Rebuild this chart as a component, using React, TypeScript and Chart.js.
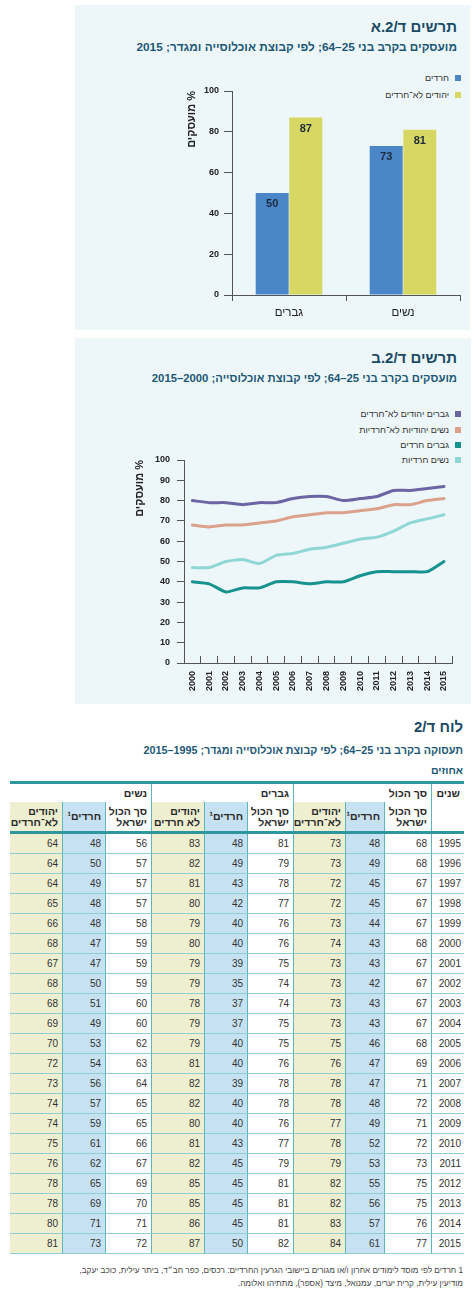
import React, { useEffect, useRef } from 'react';
import { Chart, registerables } from 'chart.js';

Chart.register(...registerables);

const FONT = "'Liberation Sans', Arial, sans-serif";
Chart.defaults.font.family = FONT;
if (typeof document !== 'undefined') {
  document.body.style.margin = '0';
}

// ---------- Chart A: 2015 bars ----------
const BAR_CATEGORIES = ['גברים', 'נשים'];
const BAR_SERIES_LABELS = ['חרדים', 'יהודים לא־חרדים'];
const BAR_HAREDI = [50, 73];
const BAR_NON_HAREDI = [87, 81];

// ---------- Chart B: 2000-2015 lines ----------
const LINE_YEARS = ['2000', '2001', '2002', '2003', '2004', '2005', '2006', '2007', '2008', '2009', '2010', '2011', '2012', '2013', '2014', '2015'];
const LINE_SERIES_LABELS = ['גברים יהודים לא־חרדים', 'נשים יהודיות לא־חרדיות', 'גברים חרדים', 'נשים חרדיות'];
const LINE_MEN_NON_HAREDI = [80, 79, 79, 78, 79, 79, 81, 82, 82, 80, 81, 82, 85, 85, 86, 87];
const LINE_WOMEN_NON_HAREDI = [68, 67, 68, 68, 69, 70, 72, 73, 74, 74, 75, 76, 78, 78, 80, 81];
const LINE_MEN_HAREDI = [40, 39, 35, 37, 37, 40, 40, 39, 40, 40, 43, 45, 45, 45, 45, 50];
const LINE_WOMEN_HAREDI = [47, 47, 50, 51, 49, 53, 54, 56, 57, 59, 61, 62, 65, 69, 71, 73];

// ---------- Table ----------
const TABLE_YEARS = [1995, 1996, 1997, 1998, 1999, 2000, 2001, 2002, 2003, 2004, 2005, 2006, 2007, 2008, 2009, 2010, 2011, 2012, 2013, 2014, 2015];
const TOTAL_ISRAEL = [68, 68, 67, 67, 67, 68, 67, 67, 67, 67, 68, 69, 71, 72, 71, 72, 73, 75, 75, 76, 77];
const TOTAL_HAREDI = [48, 49, 45, 45, 44, 43, 43, 42, 43, 43, 46, 47, 47, 48, 49, 52, 53, 55, 56, 57, 61];
const TOTAL_NON_HAREDI = [73, 73, 72, 72, 73, 74, 73, 73, 73, 73, 75, 76, 78, 78, 77, 78, 79, 82, 82, 83, 84];
const MEN_ISRAEL = [81, 79, 78, 77, 76, 76, 75, 74, 74, 75, 75, 76, 78, 78, 76, 77, 79, 81, 81, 81, 82];
const MEN_HAREDI = [48, 49, 43, 42, 40, 40, 39, 35, 37, 37, 40, 40, 39, 40, 40, 43, 45, 45, 45, 45, 50];
const MEN_NON_HAREDI = [83, 82, 81, 80, 79, 80, 79, 79, 78, 79, 79, 81, 82, 82, 80, 81, 82, 85, 85, 86, 87];
const WOMEN_ISRAEL = [56, 57, 57, 57, 58, 59, 59, 59, 60, 60, 62, 63, 64, 65, 65, 66, 67, 69, 70, 71, 72];
const WOMEN_HAREDI = [48, 50, 49, 48, 48, 47, 47, 50, 51, 49, 53, 54, 56, 57, 59, 61, 62, 65, 69, 71, 73];
const WOMEN_NON_HAREDI = [64, 64, 64, 65, 66, 68, 67, 68, 68, 69, 70, 72, 73, 74, 74, 75, 76, 78, 78, 80, 81];

const GROUP_HEADERS = ['שנים', 'סך הכול', 'גברים', 'נשים'];
const SUB_HEADERS = [
  [''],
  ['סך הכול', 'ישראל'], ['חרדים¹'], ['יהודים', 'לא־חרדים'],
  ['סך הכול', 'ישראל'], ['חרדים¹'], ['יהודים', 'לא חרדים'],
  ['סך הכול', 'ישראל'], ['חרדים¹'], ['יהודים', 'לא־חרדים'],
];

// ---------- Styles ----------
const PANEL_BG = '#edf7fa';
const TITLE_COLOR = '#1b4a66';
const SUB_COLOR = '#1d5876';
const AXIS = '#555';
const TEXT = '#222';
const BLUE = '#4a86c8';
const YELLOW = '#d7d763';
const LINE_COLORS = ['#6b66a3', '#dba18b', '#17938f', '#8fd7d5'];
const TEAL_THICK = '#2e979e';
const TEAL_V = '#5db6bb';
const TEAL_H = '#8fcfd2';
const CELL_BLUE = '#c6e1f2';
const CELL_YELLOW = '#eeefd0';

const barValueLabels = {
  id: 'barValueLabels',
  afterDatasetsDraw(chart: any) {
    const ctx = chart.ctx;
    ctx.save();
    ctx.font = `bold 11px ${FONT}`;
    ctx.fillStyle = '#1c2a3a';
    ctx.textAlign = 'center';
    ctx.textBaseline = 'middle';
    chart.data.datasets.forEach((ds: any, i: number) => {
      chart.getDatasetMeta(i).data.forEach((el: any, j: number) => {
        ctx.fillText(String(ds.data[j]), el.x, el.y + 11);
      });
    });
    ctx.restore();
  },
};

function BarChart() {
  const ref = useRef<HTMLCanvasElement>(null);
  useEffect(() => {
    const chart = new Chart(ref.current as HTMLCanvasElement, {
      type: 'bar',
      data: {
        labels: BAR_CATEGORIES,
        datasets: [
          { label: BAR_SERIES_LABELS[0], data: BAR_HAREDI, backgroundColor: BLUE, categoryPercentage: 0.59, barPercentage: 0.98 },
          { label: BAR_SERIES_LABELS[1], data: BAR_NON_HAREDI, backgroundColor: YELLOW, categoryPercentage: 0.59, barPercentage: 0.98 },
        ],
      },
      options: {
        animation: false,
        responsive: false,
        layout: { padding: { top: 31, right: 10, left: 0, bottom: 0 } },
        plugins: { legend: { display: false }, tooltip: { enabled: false } },
        scales: {
          x: {
            grid: { drawOnChartArea: false, offset: true, tickLength: 6, color: AXIS },
            border: { color: AXIS },
            ticks: { color: TEXT, font: { size: 11.5 }, padding: 5 },
            afterFit: (s: any) => { s.height = 35; },
          },
          y: {
            min: 0,
            max: 100,
            ticks: { stepSize: 20, color: TEXT, font: { size: 9, weight: 'bold' }, padding: 5 },
            grid: { drawOnChartArea: false, tickLength: 8, color: AXIS },
            border: { color: AXIS },
            title: { display: true, text: '% מועסקים', align: 'end', color: TEXT, font: { size: 11, weight: 'bold' }, padding: { top: 35, bottom: 0 } },
            afterFit: (s: any) => { s.width = 82; },
          },
        },
      } as any,
      plugins: [barValueLabels],
    });
    return () => chart.destroy();
  }, []);
  return <canvas ref={ref} width={320} height={270} style={{ position: 'absolute', left: 150, top: 60, direction: 'rtl' }} />;
}

function LineChart() {
  const ref = useRef<HTMLCanvasElement>(null);
  useEffect(() => {
    const series = [LINE_MEN_NON_HAREDI, LINE_WOMEN_NON_HAREDI, LINE_MEN_HAREDI, LINE_WOMEN_HAREDI];
    const chart = new Chart(ref.current as HTMLCanvasElement, {
      type: 'line',
      data: {
        labels: LINE_YEARS,
        datasets: series.map((d, i) => ({
          label: LINE_SERIES_LABELS[i],
          data: d,
          borderColor: LINE_COLORS[i],
          borderWidth: 3,
          pointRadius: 0,
          tension: 0.2,
          fill: false,
          borderJoinStyle: 'round',
          borderCapStyle: 'round',
        })),
      },
      options: {
        animation: false,
        responsive: false,
        layout: { padding: { top: 20, right: 8, left: 0, bottom: 0 } },
        plugins: { legend: { display: false }, tooltip: { enabled: false } },
        scales: {
          x: {
            offset: true,
            grid: { drawOnChartArea: false, offset: true, tickLength: -7, color: AXIS },
            border: { color: AXIS },
            ticks: { color: TEXT, font: { size: 9, weight: 'bold' }, minRotation: 90, maxRotation: 90, autoSkip: false, padding: 15 },
            afterFit: (s: any) => { s.height = 37; },
          },
          y: {
            min: 0,
            max: 100,
            ticks: { stepSize: 10, color: TEXT, font: { size: 9, weight: 'bold' }, padding: 7 },
            grid: { drawOnChartArea: false, tickLength: 7, color: AXIS },
            border: { color: AXIS },
            title: { display: true, text: '% מועסקים', align: 'end', color: TEXT, font: { size: 11, weight: 'bold' }, padding: { top: 13, bottom: 0 } },
            afterFit: (s: any) => { s.width = 64; },
          },
        },
      } as any,
    });
    return () => chart.destroy();
  }, []);
  return <canvas ref={ref} width={350} height={260} style={{ position: 'absolute', left: 120, top: 440, direction: 'rtl' }} />;
}

function Txt(p: { top: number; right: number; size: number; color: string; text: string; bold?: boolean; lh?: number }) {
  const lh = p.lh ?? Math.round(p.size * 1.3);
  return (
    <div
      style={{
        position: 'absolute',
        top: p.top - lh / 2,
        right: p.right,
        fontSize: p.size,
        lineHeight: `${lh}px`,
        fontWeight: p.bold ? 'bold' : 'normal',
        color: p.color,
        direction: 'rtl',
        whiteSpace: 'nowrap',
      }}
    >
      {p.text}
    </div>
  );
}

function Legend(p: { labels: string[]; colors: string[]; tops: number[] }) {
  return (
    <>
      {p.labels.map((l, i) => (
        <div key={i} style={{ position: 'absolute', right: 474 - 461, top: p.tops[i] - 7, height: 14, display: 'flex', alignItems: 'center', direction: 'rtl', whiteSpace: 'nowrap' }}>
          <span style={{ display: 'inline-block', width: 6, height: 6, background: p.colors[i], marginLeft: 6 }} />
          <span style={{ fontSize: 9, color: '#333', lineHeight: '14px' }}>{l}</span>
        </div>
      ))}
    </>
  );
}

const COL_WIDTHS = [32, 47, 39, 52, 46, 43, 53, 46, 43, 53];
const COL_KIND = ['year', 'isr', 'har', 'non', 'isr', 'har', 'non', 'isr', 'har', 'non'];
const TABLE_RIGHT = 464;
const colRight = (i: number) => TABLE_RIGHT - COL_WIDTHS.slice(0, i).reduce((a, b) => a + b, 0);
const bgFor = (k: string) => (k === 'har' ? CELL_BLUE : k === 'non' ? CELL_YELLOW : '#fff');

function Table() {
  const cols = [TABLE_YEARS, TOTAL_ISRAEL, TOTAL_HAREDI, TOTAL_NON_HAREDI, MEN_ISRAEL, MEN_HAREDI, MEN_NON_HAREDI, WOMEN_ISRAEL, WOMEN_HAREDI, WOMEN_NON_HAREDI];
  const cells: React.ReactNode[] = [];
  const H1_TOP = 784, H1_H = 18, H2_TOP = 802, H2_H = 29, D_TOP = 834, ROW_H = 20;
  cells.push(<div key="tl" style={{ position: 'absolute', left: 10, top: 781, width: 454, height: 3, background: TEAL_THICK }} />);
  const groups = [[0, 1], [1, 4], [4, 7], [7, 10]];
  groups.forEach(([a, b], gi) => {
    const right = colRight(a);
    const left = colRight(b);
    cells.push(
      <div key={'g' + gi} style={{ position: 'absolute', left, top: H1_TOP, width: right - left, height: H1_H, boxSizing: 'border-box', borderRight: gi > 0 ? `1px solid ${TEAL_V}` : 'none', direction: 'rtl', textAlign: 'right', paddingRight: 4, fontSize: 10.5, fontWeight: 'bold', lineHeight: `${H1_H}px`, color: '#2a2a2a' }}>
        {GROUP_HEADERS[gi]}
      </div>
    );
  });
  COL_WIDTHS.forEach((w, i) => {
    const right = colRight(i);
    cells.push(
      <div key={'s' + i} style={{ position: 'absolute', left: right - w, top: H2_TOP, width: w, height: H2_H, boxSizing: 'border-box', background: bgFor(COL_KIND[i]), borderRight: i > 0 ? `1px solid ${TEAL_V}` : 'none', direction: 'rtl', textAlign: 'right', paddingRight: 4, display: 'flex', flexDirection: 'column', justifyContent: 'center', fontSize: 10.5, fontWeight: 'bold', lineHeight: '11px', color: '#2a2a2a', whiteSpace: 'nowrap' }}>
        {SUB_HEADERS[i].map((t, k) => <div key={k}>{t}</div>)}
      </div>
    );
  });
  cells.push(<div key="hl" style={{ position: 'absolute', left: 10, top: 831, width: 454, height: 3, background: TEAL_THICK }} />);
  TABLE_YEARS.forEach((_, r) => {
    COL_WIDTHS.forEach((w, i) => {
      const right = colRight(i);
      cells.push(
        <div key={`d${r}_${i}`} style={{ position: 'absolute', left: right - w, top: D_TOP + r * ROW_H, width: w, height: ROW_H, boxSizing: 'border-box', background: bgFor(COL_KIND[i]), borderRight: i > 0 ? `1px solid ${TEAL_V}` : 'none', borderBottom: `1px solid ${TEAL_H}`, textAlign: 'right', paddingRight: i === 0 ? 3 : 4, fontSize: 10, lineHeight: `${ROW_H - 1}px`, color: '#333' }}>
          {cols[i][r]}
        </div>
      );
    });
  });
  return <>{cells}</>;
}

export default function App() {
  return (
    <div style={{ position: 'relative', width: 474, height: 1296, background: '#fff', fontFamily: FONT, overflow: 'hidden' }}>
      {/* Panel A */}
      <div style={{ position: 'absolute', left: 75, top: 5, width: 395, height: 325, background: PANEL_BG }} />
      <Txt top={27} right={17} size={15} bold color={TITLE_COLOR} text="תרשים ד/2.א" />
      <Txt top={47} right={17} size={11.8} bold color={SUB_COLOR} text="מועסקים בקרב בני 25–64; לפי קבוצת אוכלוסייה ומגדר; 2015" />
      <Legend labels={BAR_SERIES_LABELS} colors={[BLUE, YELLOW]} tops={[78, 95]} />
      <BarChart />

      {/* Panel B */}
      <div style={{ position: 'absolute', left: 75, top: 338, width: 396, height: 366, background: PANEL_BG }} />
      <Txt top={358} right={17} size={15} bold color={TITLE_COLOR} text="תרשים ד/2.ב" />
      <Txt top={378} right={17} size={11.3} bold color={SUB_COLOR} text="מועסקים בקרב בני 25–64; לפי קבוצת אוכלוסייה; 2000–2015" />
      <Legend labels={LINE_SERIES_LABELS} colors={LINE_COLORS} tops={[414, 429.5, 444.5, 460]} />
      <LineChart />

      {/* Table */}
      <Txt top={727} right={11} size={15} bold color={TITLE_COLOR} text="לוח ד/2" />
      <Txt top={750} right={11} size={10.8} bold color={SUB_COLOR} text="תעסוקה בקרב בני 25–64; לפי קבוצת אוכלוסייה ומגדר; 1995–2015" />
      <Txt top={770} right={11} size={10.5} bold color={SUB_COLOR} text="אחוזים" />
      <Table />
      <Txt top={1270} right={11} size={8.2} color="#444" text="1 חרדים לפי מוסד לימודים אחרון ו/או מגורים ביישובי הגרעין החרדיים: רכסים, כפר חב״ד, ביתר עילית, כוכב יעקב," />
      <Txt top={1283} right={11} size={8.2} color="#444" text="מודיעין עילית, קרית יערים, עמנואל, מיצד (אספר), מתתיהו ואלומה." />
    </div>
  );
}
